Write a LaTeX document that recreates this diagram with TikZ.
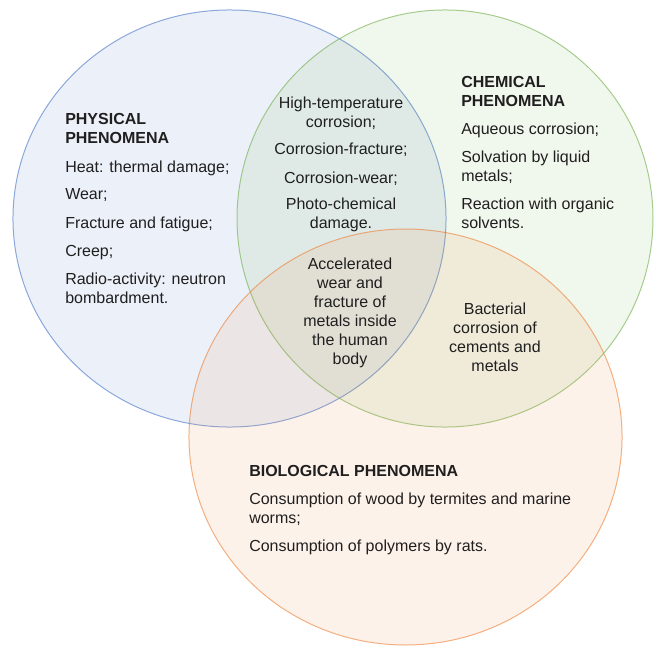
\documentclass[tikz,border=0pt]{standalone}
\usepackage{fontspec}
\setmainfont{Liberation Sans}
\usepackage{tikz}
\definecolor{physblue}{HTML}{4472C4}
\definecolor{chemgreen}{HTML}{70AD47}
\definecolor{bioorange}{HTML}{ED7D31}
\tikzset{
	txt/.style={inner sep=0pt, text=black!88, font=\fontsize{12}{14.25}\selectfont},
	head/.style={txt, font=\fontsize{12}{14.25}\selectfont\bfseries},
	set/.style={line width=0.75pt, draw opacity=0.6, fill opacity=0.1}
}
\begin{document}
\begin{tikzpicture}[x=0.75pt, y=-0.75pt]
			%%%%% START %%%%%
			\useasboundingbox (0, 0) rectangle (657, 646);
			
			\draw[set, draw=physblue, fill=physblue] (229.5, 218.5) ellipse [x radius=162.4pt, y radius=156.4pt];
			\draw[set, draw=chemgreen, fill=chemgreen] (445, 218.5) ellipse [x radius=156pt, y radius=156.4pt];
			\draw[set, draw=bioorange, fill=bioorange] (405.5, 437) ellipse [x radius=162.4pt, y radius=156pt];
			
			% physical (multi-line nodes sit on their last baseline)
			\node[head, anchor=base west, align=left] (physhead) at (65, 143) {PHYSICAL\\PHENOMENA};
			\node[txt, anchor=base west] (heat) at (65, 172) {Heat: thermal damage;};
			\node[txt, anchor=base west] (wear) at (65, 199) {Wear;};
			\node[txt, anchor=base west] (fatigue) at (65, 228) {Fracture and fatigue;};
			\node[txt, anchor=base west] (creep) at (65, 256) {Creep;};
			\node[txt, anchor=base west, align=left] (radio) at (65, 303) {Radio-activity: neutron\\bombardment.};
			
			% chemical
			\node[head, anchor=base west, align=left] (chemhead) at (461, 106) {CHEMICAL\\PHENOMENA};
			\node[txt, anchor=base west] (aqueous) at (461, 134) {Aqueous corrosion;};
			\node[txt, anchor=base west, align=left] (solvation) at (461, 181) {Solvation by liquid\\metals;};
			\node[txt, anchor=base west, align=left] (organic) at (461, 228) {Reaction with organic\\solvents.};
			
			% physical + chemical
			\node[txt, anchor=base, align=center] (hightemp) at (341, 127) {High-temperature\\corrosion;};
			\node[txt, anchor=base] (corrfrac) at (341, 154) {Corrosion-fracture;};
			\node[txt, anchor=base] (corrwear) at (341, 183) {Corrosion-wear;};
			\node[txt, anchor=base, align=center] (photo) at (341, 228) {Photo-chemical\\damage.};
			
			% all three
			\node[txt, anchor=base, align=center] (body) at (350, 364) {Accelerated\\wear and\\fracture of\\metals inside\\the human\\body};
			
			% chemical + biological
			\node[txt, anchor=base, align=center] (bacteria) at (495, 371) {Bacterial\\corrosion of\\cements and\\metals};
			
			% biological
			\node[head, anchor=base west] (biohead) at (249, 476) {BIOLOGICAL PHENOMENA};
			\node[txt, anchor=base west, align=left] (termites) at (249, 523) {Consumption of wood by termites and marine\\worms;};
			\node[txt, anchor=base west] (rats) at (249, 551) {Consumption of polymers by rats.};
			
			%%%%% END %%%%%
\end{tikzpicture}
\end{document}
